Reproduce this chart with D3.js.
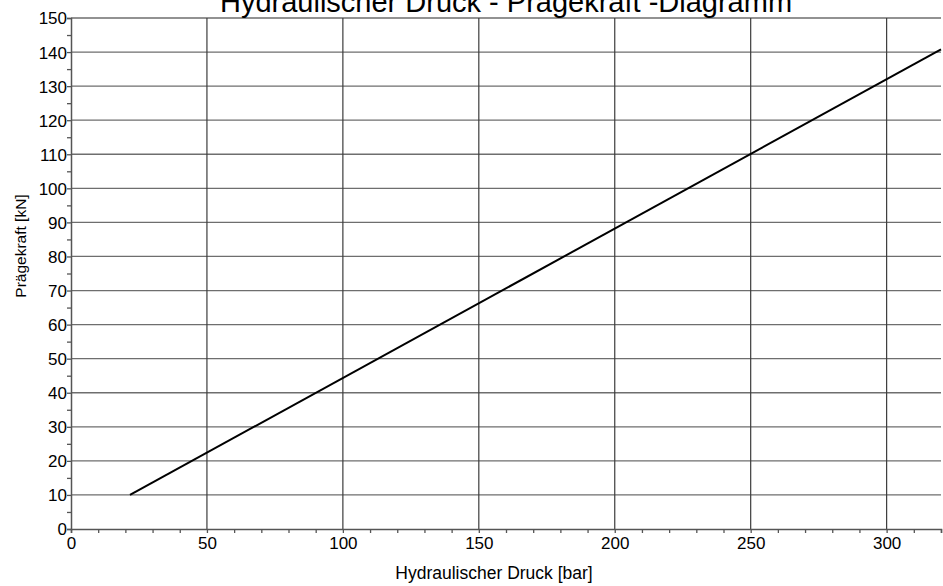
<!DOCTYPE html>
<html>
<head>
<meta charset="utf-8">
<title>Hydraulischer Druck - Prägekraft -Diagramm</title>
<script src="https://cdn.jsdelivr.net/npm/d3@7"></script>
<style>
    body { margin: 0; background: #fff; }
    text { font-family: "Liberation Sans", Arial, sans-serif; fill: #000; }
</style>
</head>
<body>
<div id="chart"></div>
<script>
    // data
    var druck = [21.7, 320];       // bar
    var kraft = [10, 140.8];       // kN
    var xTicks = [0, 50, 100, 150, 200, 250, 300];
    var yTicks = [0, 10, 20, 30, 40, 50, 60, 70, 80, 90, 100, 110, 120, 130, 140, 150];

    var width = 943, height = 586;
    var margin = { left: 71, right: 2, top: 18, bottom: 57 };

    var svg = d3.select("#chart").append("svg")
        .attr("width", width)
        .attr("height", height);

    var x = d3.scaleLinear().domain([0, 320]).range([margin.left, width - margin.right]);
    var y = d3.scaleLinear().domain([0, 150]).range([height - margin.bottom, margin.top]);

    // grid
    svg.append("g").selectAll("line.h")
        .data(yTicks.filter(function(d) { return d > 0; }))
        .enter().append("line")
        .attr("x1", x(0)).attr("x2", x(320))
        .attr("y1", function(d) { return y(d); })
        .attr("y2", function(d) { return y(d); })
        .attr("stroke", "#6e6e6e").attr("stroke-width", 1.3);

    svg.append("g").selectAll("line.v")
        .data(xTicks.filter(function(d) { return d > 0; }))
        .enter().append("line")
        .attr("x1", function(d) { return x(d); })
        .attr("x2", function(d) { return x(d); })
        .attr("y1", y(0)).attr("y2", y(150))
        .attr("stroke", "#3c3c3c").attr("stroke-width", 1.2);

    // axes
    var xAxis = svg.append("g")
        .attr("transform", "translate(0," + y(0) + ")")
        .call(d3.axisBottom(x).tickValues(d3.range(0, 321, 10)).tickSize(4)
            .tickFormat(function(d) { return xTicks.indexOf(d) >= 0 ? d : ""; }));
    var yAxis = svg.append("g")
        .attr("transform", "translate(" + x(0) + ",0)")
        .call(d3.axisLeft(y).tickValues(d3.range(0, 151, 5)).tickSize(4)
            .tickFormat(function(d) { return yTicks.indexOf(d) >= 0 ? d : ""; }));

    [xAxis, yAxis].forEach(function(a) {
        a.select(".domain").attr("stroke", "#555").attr("stroke-width", 1.5);
        a.selectAll(".tick line").attr("stroke", "#555").attr("stroke-width", 1.3);
        a.selectAll(".tick text").attr("font-size", "17px").attr("fill", "#000")
            .style("font-family", "'Liberation Sans', Arial, sans-serif");
    });
    xAxis.selectAll(".tick text").attr("y", 20).attr("dy", 0);
    yAxis.selectAll(".tick text").attr("x", -4).attr("dy", "0.35em");

    // curve
    var line = d3.line()
        .x(function(d, i) { return x(druck[i]); })
        .y(function(d) { return y(d); });
    svg.append("path")
        .datum(kraft)
        .attr("d", line)
        .attr("fill", "none")
        .attr("stroke", "#000")
        .attr("stroke-width", 2);

    // labels
    svg.append("text")
        .attr("x", 506).attr("y", 12)
        .attr("text-anchor", "middle")
        .attr("font-size", "29px")
        .text("Hydraulischer Druck - Prägekraft -Diagramm");

    svg.append("text")
        .attr("x", 494).attr("y", 579)
        .attr("text-anchor", "middle")
        .attr("font-size", "17.5px")
        .text("Hydraulischer Druck [bar]");

    svg.append("text")
        .attr("transform", "translate(26,246) rotate(-90)")
        .attr("text-anchor", "middle")
        .attr("font-size", "15.5px")
        .text("Prägekraft [kN]");
</script>
</body>
</html>
